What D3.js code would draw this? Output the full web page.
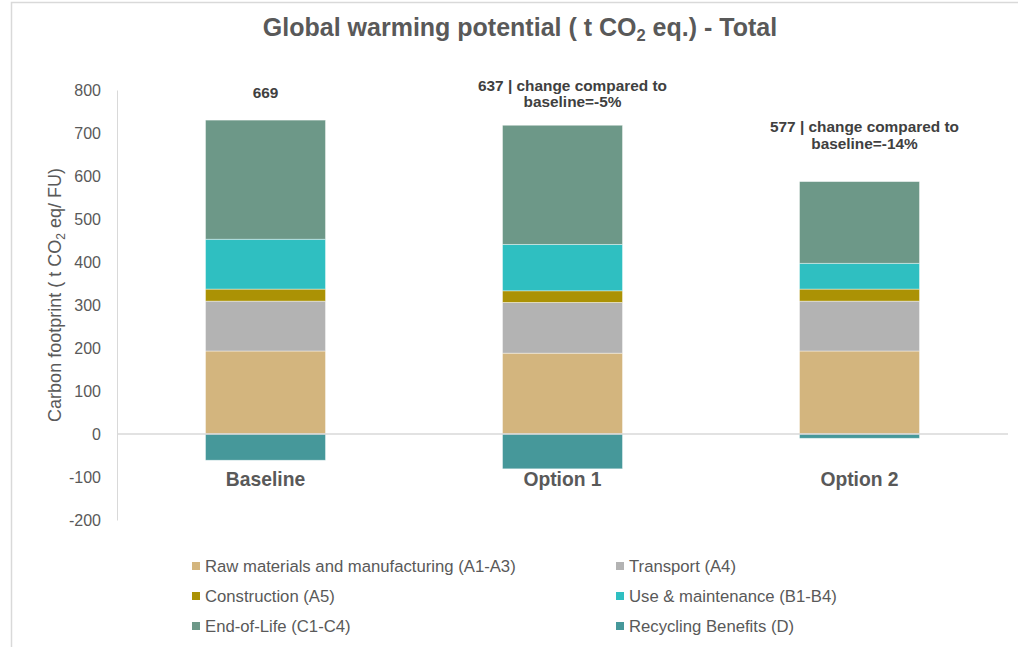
<!DOCTYPE html>
<html>
<head>
<meta charset="utf-8">
<script src="https://cdn.jsdelivr.net/npm/d3@7"></script>
<style>
  html, body { margin: 0; padding: 0; background: #fff; }
  svg { display: block; font-family: "Liberation Sans", Arial, sans-serif; }
</style>
</head>
<body>
<svg id="chart" width="1018" height="647"></svg>
<script>
// Life-cycle stages of the stacked bars (bottom to top, then the negative credit)
const categories = ["Baseline", "Option 1", "Option 2"];
const stages = [
  "Raw materials and manufacturing (A1-A3)",
  "Transport (A4)",
  "Construction (A5)",
  "Use & maintenance (B1-B4)",
  "End-of-Life (C1-C4)",
  "Recycling Benefits (D)"
];
const stageColors = ["#D3B57E", "#B3B3B3", "#AB9205", "#2FBFC1", "#6D9888", "#46989A"];

// t CO2 eq / FU per stage, one value per category
const rawMaterials = [193, 188, 193];
const transport    = [116, 118, 116];
const construction = [28, 27, 28];
const useMaint     = [116, 108, 60];
const endOfLife    = [277, 277, 190];
const recycling    = [-61, -81, -10];

// Net totals and their labels
const totals = [669, 637, 577];
const totalLabels = [
  ["669"],
  ["637 | change compared to", "baseline=-5%"],
  ["577 | change compared to", "baseline=-14%"]
];

const yTicks = [-200, -100, 0, 100, 200, 300, 400, 500, 600, 700, 800];

const series = [rawMaterials, transport, construction, useMaint, endOfLife, recycling];

const svg = d3.select("#chart");

// outer frame
svg.append("rect")
  .attr("x", 11.5).attr("y", 2.5)
  .attr("width", 1020).attr("height", 660)
  .attr("fill", "none").attr("stroke", "#d9d9d9").attr("stroke-width", 1.5);

const plot = { left: 117, right: 1008, top: 90, bottom: 520 };

const x = d3.scaleBand()
  .domain(categories)
  .range([plot.left, plot.right])
  .paddingInner(0.596)
  .paddingOuter(0.298);

const y = d3.scaleLinear()
  .domain([-200, 800])
  .range([plot.bottom, plot.top]);

// Title
const title = svg.append("text")
  .attr("x", 520).attr("y", 36)
  .attr("text-anchor", "middle")
  .attr("fill", "#595959")
  .attr("font-size", 25)
  .attr("font-weight", "bold");
title.append("tspan").text("Global warming potential ( t CO");
title.append("tspan").attr("font-size", 16.5).attr("dy", 5).text("2");
title.append("tspan").attr("dy", -5).text(" eq.) - Total");

// Y axis
const yAxis = svg.append("g")
  .attr("transform", `translate(${plot.left},0)`)
  .call(d3.axisLeft(y).tickValues(yTicks).tickFormat(d => String(d))
    .tickSize(0).tickPadding(16).tickSizeOuter(0));
yAxis.select(".domain").attr("stroke", "#d9d9d9").attr("stroke-width", 1);
yAxis.selectAll(".tick text")
  .attr("fill", "#595959")
  .attr("font-size", 16)
  .attr("font-family", "Liberation Sans, Arial, sans-serif");

// Y axis title
const yTitle = svg.append("text")
  .attr("transform", "translate(61,295) rotate(-90)")
  .attr("text-anchor", "middle")
  .attr("fill", "#595959")
  .attr("font-size", 18);
yTitle.append("tspan").text("Carbon footprint ( t CO");
yTitle.append("tspan").attr("font-size", 12).attr("dy", 4).text("2");
yTitle.append("tspan").attr("dy", -4).text(" eq/ FU)");

// Stacked segments: positives stack upward from 0, negatives downward
const segments = [];
categories.forEach((cat, ci) => {
  let pos = 0, neg = 0;
  series.forEach((s, si) => {
    const v = s[ci];
    let y0, y1;
    if (v >= 0) { y0 = pos; y1 = pos + v; pos = y1; }
    else { y0 = neg; y1 = neg + v; neg = y1; }
    segments.push({ cat, si, y0, y1 });
  });
});

svg.append("g").selectAll("rect")
  .data(segments)
  .join("rect")
  .attr("x", d => x(d.cat))
  .attr("width", x.bandwidth())
  .attr("y", d => y(Math.max(d.y0, d.y1)))
  .attr("height", d => Math.abs(y(d.y0) - y(d.y1)))
  .attr("fill", d => stageColors[d.si])
  .attr("stroke", "#ffffff")
  .attr("stroke-opacity", 0.5)
  .attr("stroke-width", 0.8);

// Zero line
svg.append("line")
  .attr("x1", plot.left).attr("x2", plot.right)
  .attr("y1", y(0)).attr("y2", y(0))
  .attr("stroke", "#d9d9d9").attr("stroke-width", 1.5);

// Category labels below the zero line
const xAxis = svg.append("g")
  .attr("transform", `translate(0,${y(0)})`)
  .call(d3.axisBottom(x).tickSize(0).tickPadding(38));
xAxis.select(".domain").remove();
xAxis.selectAll(".tick text")
  .attr("fill", "#595959")
  .attr("font-size", 19.3)
  .attr("font-weight", "bold")
  .attr("font-family", "Liberation Sans, Arial, sans-serif");

// Total labels above each bar
const posTop = categories.map((c, ci) => series.reduce((a, s) => a + Math.max(0, s[ci]), 0));
const labelGap = [22, 18, 33];
const labelShift = [0, 10, 5];
const lineH = 16.5;
categories.forEach((cat, ci) => {
  const lines = totalLabels[ci];
  const lastY = y(posTop[ci]) - labelGap[ci];
  const t = svg.append("text")
    .attr("text-anchor", "middle")
    .attr("fill", "#404040")
    .attr("font-size", 15.4)
    .attr("font-weight", "bold");
  lines.forEach((ln, li) => {
    t.append("tspan")
      .attr("x", x(cat) + x.bandwidth() / 2 + labelShift[ci])
      .attr("y", lastY - (lines.length - 1 - li) * lineH)
      .text(ln);
  });
});

// Legend, two columns by three rows
const legendCols = [192, 616];
const legendRows = [566, 596, 626];
const legend = svg.append("g").selectAll("g")
  .data(stages)
  .join("g")
  .attr("transform", (d, i) => `translate(${legendCols[i % 2]},${legendRows[Math.floor(i / 2)]})`);
legend.append("rect")
  .attr("x", 0).attr("y", -4)
  .attr("width", 8).attr("height", 8)
  .attr("fill", (d, i) => stageColors[i]);
legend.append("text")
  .attr("x", 13).attr("y", 5.5)
  .attr("fill", "#595959")
  .attr("font-size", 16.7)
  .text(d => d);
</script>
</body>
</html>
